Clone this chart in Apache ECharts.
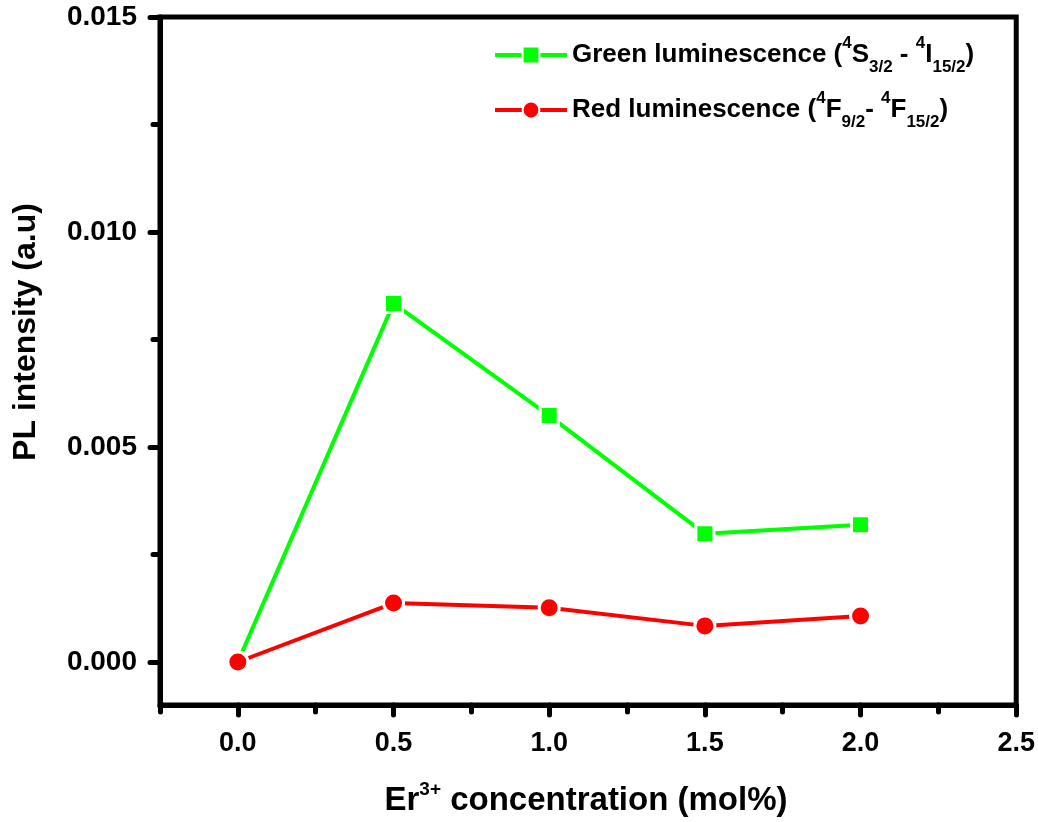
<!DOCTYPE html>
<html>
<head>
<meta charset="utf-8">
<title>PL intensity vs Er3+ concentration</title>
<script src="https://cdn.jsdelivr.net/npm/echarts@6/dist/echarts.min.js"></script>
<style>
  html, body { margin: 0; padding: 0; background: #fff; }
  #chart { width: 1038px; height: 822px; }
</style>
</head>
<body>
<div id="chart"></div>
<script>
// Er3+ concentration (mol%)
const concentration = [0.0, 0.5, 1.0, 1.5, 2.0];
// Green emission (4S3/2 -> 4I15/2) intensity, a.u.
const greenIntensity = [0.0000, 0.00834, 0.00573, 0.00298, 0.00319];
// Red emission (4F9/2 -> 4F15/2) intensity, a.u.
const redIntensity = [0.0000, 0.00137, 0.00126, 0.00084, 0.00107];

// Tick positions
const xMajorTicks = [0.0, 0.5, 1.0, 1.5, 2.0, 2.5];
const xMinorTicks = [-0.25, 0.25, 0.75, 1.25, 1.75, 2.25];
const yMajorTicks = [0.000, 0.005, 0.010, 0.015];
const yMinorTicks = [0.0025, 0.0075, 0.0125];

const seriesNames = ['Green luminescence', 'Red luminescence'];

const FONT = '"Liberation Sans", Arial, Helvetica, sans-serif';

const chart = echarts.init(document.getElementById('chart'), null, { renderer: 'canvas' });

const X_MIN = -0.25, X_MAX = 2.5, Y_MIN = -0.001, Y_MAX = 0.015;

const tickStyle = { color: '#000', width: 5, cap: 'round' };

const legendRich = {
  t:   { fontFamily: FONT, fontWeight: 'bold', fontSize: 26, color: '#000', lineHeight: 42, verticalAlign: 'middle' },
  sup: { fontFamily: FONT, fontWeight: 'bold', fontSize: 17, color: '#000', lineHeight: 42, verticalAlign: 'top', padding: [1, 0, 0, 0] },
  sub: { fontFamily: FONT, fontWeight: 'bold', fontSize: 17, color: '#000', lineHeight: 42, verticalAlign: 'bottom', padding: [0, 0, 0, 0] }
};

const legendLabels = {
  'Green luminescence': '{t|Green luminescence (}{sup|4}{t|S}{sub|3/2}{t| - }{sup|4}{t|I}{sub|15/2}{t|)}',
  'Red luminescence':   '{t|Red luminescence (}{sup|4}{t|F}{sub|9/2}{t|- }{sup|4}{t|F}{sub|15/2}{t|)}'
};

const option = {
  backgroundColor: '#fff',
  animation: false,
  grid: {
    left: 160, right: 21, top: 17, bottom: 117,
    show: true, borderColor: '#000', borderWidth: 5, backgroundColor: 'transparent'
  },
  legend: {
    left: 488, top: 29,
    orient: 'vertical',
    itemWidth: 72, itemHeight: 21, itemGap: 13,
    data: seriesNames,
    lineStyle: { width: 4 },
    formatter: name => legendLabels[name],
    textStyle: { rich: legendRich, fontFamily: FONT, fontWeight: 'bold', fontSize: 26, color: '#000' }
  },
  xAxis: [
    {
      type: 'value', min: X_MIN, max: X_MAX, position: 'bottom',
      axisLine: { show: true, onZero: false, lineStyle: { color: '#000', width: 5 } },
      axisTick: { show: true, inside: false, length: 10, customValues: xMajorTicks, lineStyle: tickStyle },
      axisLabel: {
        show: true, margin: 25, customValues: xMajorTicks,
        formatter: v => v.toFixed(1),
        fontFamily: FONT, fontWeight: 'bold', fontSize: 27, color: '#000'
      },
      splitLine: { show: false }
    },
    {
      type: 'value', min: X_MIN, max: X_MAX, position: 'bottom',
      axisLine: { show: false, onZero: false },
      axisTick: { show: true, inside: false, length: 7, customValues: xMinorTicks, lineStyle: tickStyle },
      axisLabel: { show: false },
      splitLine: { show: false }
    }
  ],
  yAxis: [
    {
      type: 'value', min: Y_MIN, max: Y_MAX, position: 'left',
      axisLine: { show: true, onZero: false, lineStyle: { color: '#000', width: 5 } },
      axisTick: { show: true, inside: false, length: 10, customValues: yMajorTicks, lineStyle: tickStyle },
      axisLabel: {
        show: true, margin: 23, customValues: yMajorTicks,
        formatter: v => v.toFixed(3),
        fontFamily: FONT, fontWeight: 'bold', fontSize: 28, color: '#000'
      },
      splitLine: { show: false }
    },
    {
      type: 'value', min: Y_MIN, max: Y_MAX, position: 'left',
      axisLine: { show: false, onZero: false },
      axisTick: { show: true, inside: false, length: 7, customValues: yMinorTicks, lineStyle: tickStyle },
      axisLabel: { show: false },
      splitLine: { show: false }
    }
  ],
  graphic: [
    {
      type: 'text',
      x: 26, y: 332, rotation: Math.PI / 2,
      style: {
        text: 'PL intensity (a.u)',
        font: 'bold 32px ' + FONT,
        fill: '#000', align: 'center', verticalAlign: 'middle'
      }
    },
    {
      type: 'text',
      x: 586, y: 801,
      style: {
        text: '{t|Er}{sup|3+}{t| concentration (mol%)}',
        align: 'center', verticalAlign: 'middle',
        rich: {
          t:   { fontFamily: FONT, fontWeight: 'bold', fontSize: 33, fill: '#000', lineHeight: 44, verticalAlign: 'middle' },
          sup: { fontFamily: FONT, fontWeight: 'bold', fontSize: 19, fill: '#000', lineHeight: 44, verticalAlign: 'top', padding: [1, 0, 0, 0] }
        }
      }
    }
  ],
  series: [
    {
      name: seriesNames[0], type: 'line',
      xAxisIndex: 0, yAxisIndex: 0,
      data: concentration.map((x, i) => [x, greenIntensity[i]]),
      symbol: 'rect', symbolSize: 18,
      lineStyle: { color: '#00ff00', width: 4 },
      itemStyle: { color: '#00ff00', borderColor: '#fff', borderWidth: 3 },
      z: 3
    },
    {
      name: seriesNames[1], type: 'line',
      xAxisIndex: 0, yAxisIndex: 0,
      data: concentration.map((x, i) => [x, redIntensity[i]]),
      symbol: 'circle', symbolSize: 20,
      lineStyle: { color: '#ff0000', width: 4 },
      itemStyle: { color: '#ff0000', borderColor: '#fff', borderWidth: 3 },
      z: 4
    }
  ]
};

chart.setOption(option);
</script>
</body>
</html>
